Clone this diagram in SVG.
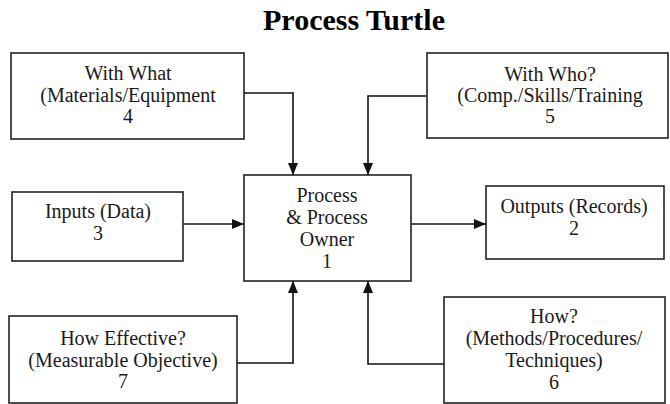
<svg xmlns="http://www.w3.org/2000/svg" width="670" height="404" viewBox="0 0 670 404">
<defs>
<style>
.box{fill:#fff;stroke:#222;stroke-width:1.6}
.t{font-family:"Liberation Serif","Times New Roman",serif;font-size:20px;fill:#1a1a1a;text-anchor:middle}
.title{font-family:"Liberation Serif","Times New Roman",serif;font-size:30px;font-weight:bold;fill:#000;text-anchor:middle}
.c{fill:none;stroke:#111;stroke-width:1.6}
</style>
<marker id="ah" viewBox="0 0 12 10" refX="12" refY="5" markerWidth="12" markerHeight="10" markerUnits="userSpaceOnUse" orient="auto">
<path d="M0,0 L12,5 L0,10 Z" fill="#111"/>
</marker>
</defs>
<rect width="670" height="404" fill="#fff"/>
<text class="title" x="354" y="30">Process Turtle</text>
<g id="connectors">
<polyline class="c" points="244,93 293,93 293,175" marker-end="url(#ah)"/>
<polyline class="c" points="427,96 368,96 368,175" marker-end="url(#ah)"/>
<line class="c" x1="183" y1="224" x2="244" y2="224" marker-end="url(#ah)"/>
<line class="c" x1="411" y1="224" x2="486" y2="224" marker-end="url(#ah)"/>
<polyline class="c" points="237,363 293,363 293,281" marker-end="url(#ah)"/>
<polyline class="c" points="444,364 368,364 368,281" marker-end="url(#ah)"/>
</g>
<g id="node-center">
<rect class="box" x="244" y="175" width="167" height="106"/>
<text class="t" x="327" y="202">Process</text>
<text class="t" x="327" y="224">&amp; Process</text>
<text class="t" x="327" y="246">Owner</text>
<text class="t" x="327" y="268">1</text>
</g>
<g id="node-with-what">
<rect class="box" x="11" y="53" width="233" height="86"/>
<text class="t" x="128" y="80">With What</text>
<text class="t" x="128" y="102">(Materials/Equipment</text>
<text class="t" x="128" y="123">4</text>
</g>
<g id="node-with-who">
<rect class="box" x="427" y="53" width="241" height="85"/>
<text class="t" x="550" y="81">With Who?</text>
<text class="t" x="550" y="102">(Comp./Skills/Training</text>
<text class="t" x="550" y="123">5</text>
</g>
<g id="node-inputs">
<rect class="box" x="12" y="192" width="171" height="69"/>
<text class="t" x="98" y="218">Inputs (Data)</text>
<text class="t" x="98" y="240">3</text>
</g>
<g id="node-outputs">
<rect class="box" x="486" y="186" width="178" height="73"/>
<text class="t" x="574" y="213">Outputs (Records)</text>
<text class="t" x="574" y="235">2</text>
</g>
<g id="node-how-effective">
<rect class="box" x="9" y="316" width="228" height="87"/>
<text class="t" x="123" y="345">How Effective?</text>
<text class="t" x="123" y="367">(Measurable Objective)</text>
<text class="t" x="123" y="388">7</text>
</g>
<g id="node-how">
<rect class="box" x="444" y="297" width="221" height="106"/>
<text class="t" x="554" y="323">How?</text>
<text class="t" x="554" y="345">(Methods/Procedures/</text>
<text class="t" x="554" y="367">Techniques)</text>
<text class="t" x="554" y="389">6</text>
</g>
</svg>
